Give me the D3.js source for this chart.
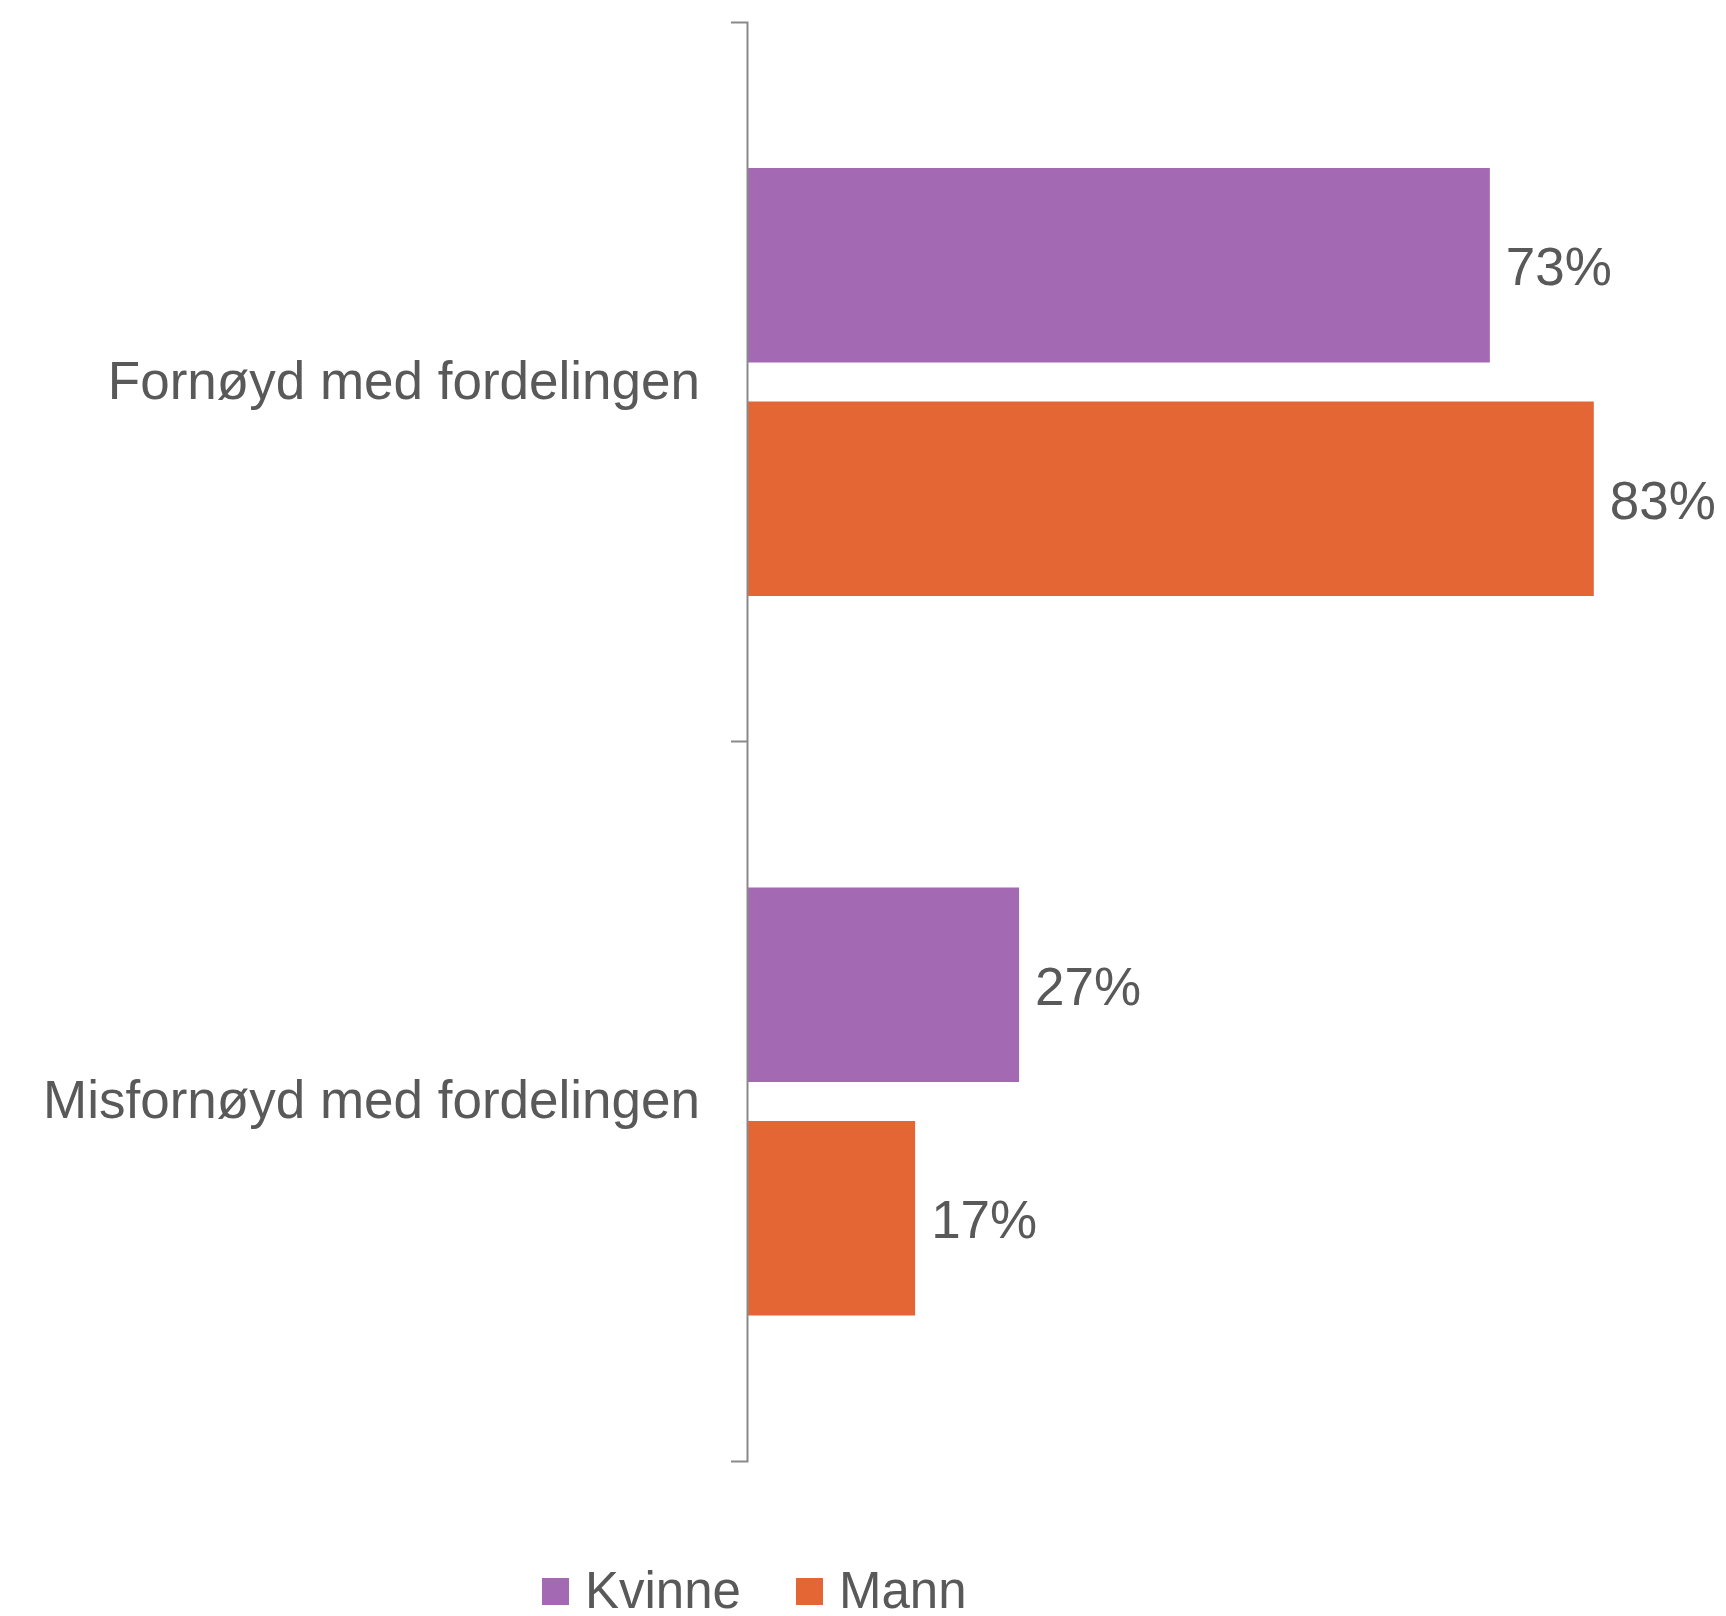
<!DOCTYPE html>
<html>
<head>
<meta charset="utf-8">
<script src="https://cdn.jsdelivr.net/npm/d3@7"></script>
<style>
  body { margin: 0; background: #fff; }
  text { font-family: "Liberation Sans", Arial, sans-serif; fill: #595959; }
</style>
</head>
<body>
<script>
// categories and series
var categories = ["Fornøyd med fordelingen", "Misfornøyd med fordelingen"];
var seriesNames = ["Kvinne", "Mann"];
var kvinne = [72.9, 26.7];
var mann = [83.1, 16.5];
var colors = ["#A369B2", "#E46635"];

var w = 1726;
var h = 1616;
var x0 = 747;

var svg = d3.select("body")
  .append("svg")
  .attr("width", w)
  .attr("height", h);

// y band for categories, sub band for series
var y = d3.scaleBand()
  .domain(categories)
  .range([22, 1461]);

var y1 = d3.scaleBand()
  .domain(seriesNames)
  .range([146, 574])
  .paddingInner(0.167);

var x = d3.scaleLinear()
  .domain([0, 100])
  .range([x0, x0 + 1019]);

var rows = categories.map(function(c, i) {
  return { cat: c, values: [
    { name: "Kvinne", v: kvinne[i] },
    { name: "Mann", v: mann[i] }
  ] };
});

var groups = svg.selectAll("g.cat")
  .data(rows)
  .enter()
  .append("g")
  .attr("class", "cat")
  .attr("transform", function(d) { return "translate(0," + y(d.cat) + ")"; });

groups.selectAll("rect")
  .data(function(d) { return d.values; })
  .enter()
  .append("rect")
  .attr("x", x(0))
  .attr("y", function(d) { return y1(d.name); })
  .attr("width", function(d) { return x(d.v) - x(0); })
  .attr("height", y1.bandwidth())
  .attr("fill", function(d, i) { return colors[i]; });

groups.selectAll("text.val")
  .data(function(d) { return d.values; })
  .enter()
  .append("text")
  .attr("class", "val")
  .attr("x", function(d) { return x(d.v) + 16; })
  .attr("y", function(d) { return y1(d.name) + y1.bandwidth() / 2; })
  .attr("dy", "0.38em")
  .attr("font-size", 53)
  .text(function(d) { return Math.round(d.v) + "%"; });

// axis: labels at band centres, ticks at band edges
var yAxis = d3.axisLeft(y)
  .tickSizeInner(0)
  .tickSizeOuter(16)
  .tickPadding(47);

var ax = svg.append("g")
  .attr("class", "axis")
  .attr("transform", "translate(" + x0 + ",0)")
  .call(yAxis);

ax.select(".domain").attr("stroke", "#898989").attr("stroke-width", 2);
ax.selectAll("text")
  .attr("font-size", 53)
  .attr("fill", "#595959")
  .attr("font-family", "Liberation Sans, Arial, sans-serif");

ax.selectAll("line.mid")
  .data(categories.slice(1))
  .enter()
  .append("line")
  .attr("class", "mid")
  .attr("x1", -16)
  .attr("x2", 0)
  .attr("y1", function(d) { return y(d); })
  .attr("y2", function(d) { return y(d); })
  .attr("stroke", "#898989")
  .attr("stroke-width", 2);

// legend
var legendX = d3.scalePoint()
  .domain(seriesNames)
  .range([542, 796]);

var leg = svg.selectAll("g.legend")
  .data(seriesNames)
  .enter()
  .append("g")
  .attr("class", "legend")
  .attr("transform", function(d) { return "translate(" + legendX(d) + ",1578)"; });

leg.append("rect")
  .attr("width", 27)
  .attr("height", 27)
  .attr("fill", function(d, i) { return colors[i]; });

leg.append("text")
  .attr("x", 43)
  .attr("y", 30)
  .attr("font-size", 51)
  .text(function(d) { return d; });
</script>
</body>
</html>
